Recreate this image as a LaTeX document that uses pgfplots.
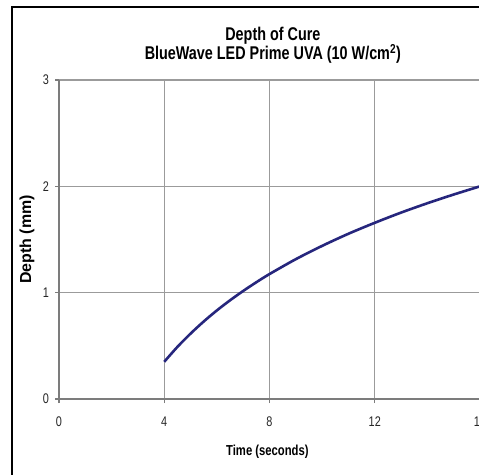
\documentclass[border=0pt]{standalone}
\usepackage{fontspec}
\setmainfont{Liberation Sans}[FakeStretch=0.78]
\newfontfamily\plainsans{Liberation Sans}
\usepackage{pgfplots}
\pgfplotsset{compat=1.18}
\definecolor{curve}{RGB}{38,38,125}
\definecolor{gridc}{RGB}{155,155,155}
\begin{document}
\begin{tikzpicture}
\useasboundingbox (0,0) rectangle (479bp,475bp);
\clip (0,0) rectangle (479bp,475bp);
\fill[white] (0,0) rectangle (479bp,475bp);
\draw[black, line width=1.6bp] (12bp,-20bp) rectangle (500bp,468bp);
\begin{axis}[
  at={(59bp,76bp)}, anchor=south west,
  scale only axis, width=421bp, height=319bp,
  xmin=0, xmax=16, ymin=0, ymax=3,
  xtick={0,4,8,12,16}, ytick={0,1,2,3},
  grid=major,
  major grid style={gridc, line width=1.3bp},
  axis lines*=left,
  axis line style={gridc!80!black, line width=1.3bp},
  tick style={gridc!80!black, line width=1.1bp},
  tick align=outside, major tick length=4bp,
  /pgf/number format/assume math mode=true,
  ticklabel style={font=\fontsize{14}{16}\selectfont, text=black!85},
  xticklabel style={anchor=center, yshift=-19bp},
  yticklabel style={anchor=east, inner sep=0pt, xshift=-6bp},
  title={Depth of Cure\\BlueWave LED Prime UVA (10 W/cm\textsuperscript{2})},
  title style={align=center, inner sep=0pt, font=\bfseries\fontsize{18.5}{20}\selectfont, at={(axis description cs:0.508,1)}, anchor=south, yshift=10bp},
  xlabel={Time (seconds)},
  xlabel style={font=\bfseries\fontsize{14.5}{16}\selectfont, at={(axis description cs:0.495,0)}, anchor=base, yshift=-56bp},
  ylabel={Depth (mm)},
  ylabel style={font=\plainsans\bfseries\fontsize{16}{18}\selectfont, at={(axis description cs:0,0.5)}, anchor=center, rotate=0, yshift=32bp},
]
\addplot[curve, line width=2.6bp, smooth] coordinates {
(4,0.350) (4.5,0.490) (5,0.615) (5.5,0.729) (6,0.833) (6.5,0.928)
(7,1.016) (7.5,1.098) (8,1.175) (9,1.315) (10,1.440) (11,1.554)
(12,1.657) (13,1.753) (14,1.841) (15,1.923) (16,2.000)};
\end{axis}
\end{tikzpicture}
\end{document}
